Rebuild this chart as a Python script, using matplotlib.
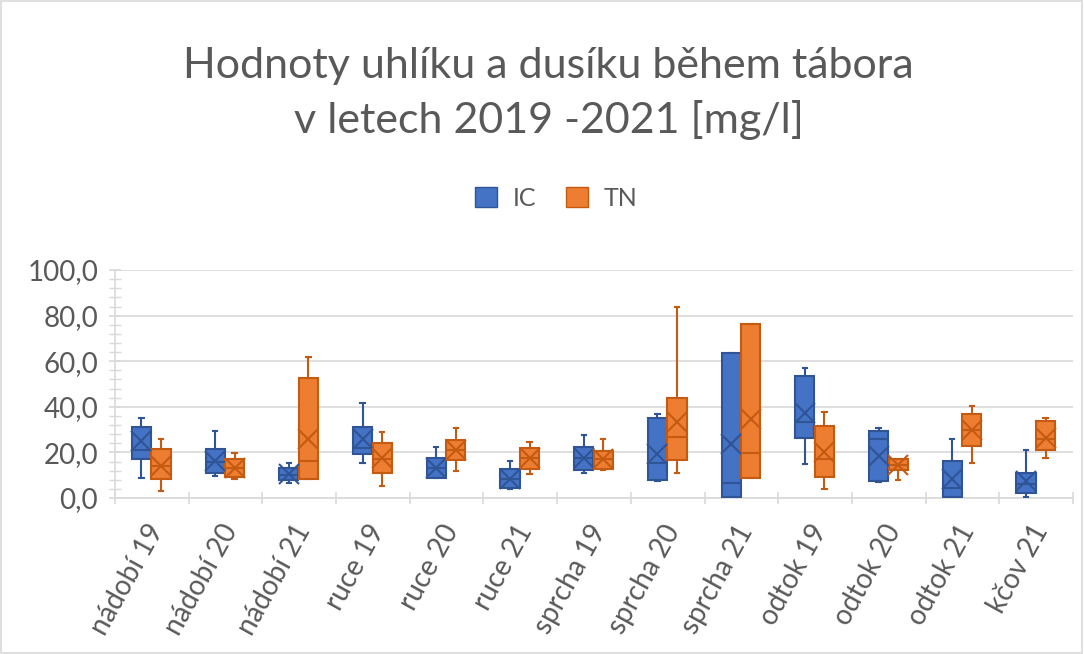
import matplotlib
matplotlib.use("Agg")
import matplotlib.pyplot as plt
from matplotlib.patches import Rectangle, Patch
from matplotlib.ticker import MultipleLocator, FuncFormatter

plt.rcParams['font.family'] = ['Lato', 'DejaVu Sans']

categories = ["nádobí 19", "nádobí 20", "nádobí 21", "ruce 19", "ruce 20", "ruce 21",
              "sprcha 19", "sprcha 20", "sprcha 21", "odtok 19", "odtok 20", "odtok 21", "kčov 21"]

# IC: min, Q1, median, Q3, max, mean
ic_min  = [9.0, 9.8, 6.4, 15.5, 8.9, 4.0, 11.1, 7.5, 0.5, 14.8, 7.0, 0.5, 0.6]
ic_q1   = [17.1, 11.1, 7.9, 19.4, 8.9, 4.5, 12.3, 7.9, 0.6, 26.5, 7.5, 0.6, 2.0]
ic_med  = [21.0, 16.0, 10.0, 21.8, 13.0, 8.5, 17.4, 15.2, 6.4, 33.2, 25.7, 4.2, 6.0]
ic_q3   = [31.3, 21.5, 13.0, 31.1, 17.4, 12.6, 22.5, 35.2, 63.5, 53.6, 29.4, 16.2, 10.8]
ic_max  = [35.2, 29.4, 15.2, 41.5, 22.5, 16.2, 27.6, 36.7, 63.5, 57.1, 30.8, 25.9, 21.0]
ic_mean = [24.8, 16.4, 10.4, 25.7, 13.0, 8.5, 17.4, 19.3, 23.5, 37.1, 18.6, 8.2, 7.3]

# TN: min, Q1, median, Q3, max, mean
tn_min  = [3.2, 8.2, 8.2, 5.4, 11.8, 10.4, 12.3, 11.1, 8.6, 4.1, 7.9, 15.5, 17.4]
tn_q1   = [8.2, 9.4, 8.2, 11.1, 16.7, 12.6, 12.7, 16.7, 8.6, 9.4, 12.3, 22.8, 21.0]
tn_med  = [14.0, 13.3, 16.2, 17.0, 21.0, 17.4, 17.0, 26.9, 19.9, 17.0, 14.5, 30.0, 26.0]
tn_q3   = [21.6, 17.1, 52.8, 24.0, 25.4, 21.8, 20.6, 44.0, 76.2, 31.6, 17.0, 36.7, 33.8]
tn_max  = [25.9, 19.6, 62.0, 28.9, 30.8, 24.6, 25.9, 83.6, 76.2, 37.9, 17.2, 40.4, 35.2]
tn_mean = [14.0, 13.3, 25.7, 17.5, 21.0, 17.4, 17.0, 33.2, 34.6, 20.3, 14.5, 29.8, 26.5]

series_names = ["IC", "TN"]
ic_fill, ic_edge = "#4472C4", "#2F5597"
tn_fill, tn_edge = "#ED7D31", "#C55A11"

fig = plt.figure(figsize=(10.84, 6.54), dpi=100)
fig.patches.append(Rectangle((0.001, 0.001), 0.997, 0.997, transform=fig.transFigure,
                             fill=False, edgecolor="#D9D9D9", linewidth=1.2))
ax = fig.add_axes([0.106, 0.2385, 0.884, 0.3486])

def make_stats(mn, q1, med, q3, mx, mean):
    return [dict(whislo=a, q1=b, med=c, q3=d, whishi=e, mean=f, fliers=[])
            for a, b, c, d, e, f in zip(mn, q1, med, q3, mx, mean)]

w = 0.26
pos = list(range(len(categories)))
for stats, off, fill, edge in [
        (make_stats(ic_min, ic_q1, ic_med, ic_q3, ic_max, ic_mean), -0.14, ic_fill, ic_edge),
        (make_stats(tn_min, tn_q1, tn_med, tn_q3, tn_max, tn_mean), 0.125, tn_fill, tn_edge)]:
    ax.bxp(stats, positions=[p + off for p in pos], widths=w, patch_artist=True,
           showmeans=True, showfliers=False,
           boxprops=dict(facecolor=fill, edgecolor=edge, linewidth=1.5),
           medianprops=dict(color=edge, linewidth=1.5),
           whiskerprops=dict(color=edge, linewidth=1.5),
           capprops=dict(color=edge, linewidth=1.5),
           capwidths=0.06,
           meanprops=dict(marker='x', markeredgecolor=edge, markersize=14, markeredgewidth=1.5),
           manage_ticks=False, zorder=3)

ax.set_xlim(-0.5, len(categories) - 0.5)
ax.set_ylim(0, 100)
ax.yaxis.set_major_locator(MultipleLocator(20))
ax.yaxis.set_minor_locator(MultipleLocator(4))
ax.yaxis.set_major_formatter(FuncFormatter(lambda v, p: f"{v:.1f}".replace(".", ",")))
ax.grid(axis='y', which='major', color="#D9D9D9", linewidth=1.2, zorder=0)
ax.set_axisbelow(True)

ax.set_xticks([p - 0.5 for p in pos] + [len(categories) - 0.5])
ax.set_xticklabels([])
ax.set_xticks([p - 0.08 for p in pos], minor=True)
ax.set_xticklabels(categories, minor=True, rotation=61, ha='right', va='top',
                   rotation_mode='anchor', fontsize=20, color="#595959")
ax.tick_params(axis='x', which='major', length=8, direction='inout', color="#D9D9D9", width=1.2)
ax.tick_params(axis='x', which='minor', length=0, pad=16)
ax.tick_params(axis='y', which='major', length=8, direction='inout', color="#D9D9D9", width=1.2,
               labelsize=20, labelcolor="#595959", pad=8)
ax.tick_params(axis='y', which='minor', length=8, direction='inout', color="#D9D9D9", width=1.0)

for s in ['top', 'right']:
    ax.spines[s].set_visible(False)
for s in ['left', 'bottom']:
    ax.spines[s].set_color("#D9D9D9")
    ax.spines[s].set_linewidth(1.2)

fig.text(0.506, 0.857, "Hodnoty uhlíku a dusíku během tábora\nv letech 2019 -2021 [mg/l]",
         ha='center', va='center', fontsize=31, color="#595959", linespacing=1.45)

handles = [Patch(facecolor=ic_fill, edgecolor=ic_edge, label=series_names[0]),
           Patch(facecolor=tn_fill, edgecolor=tn_edge, label=series_names[1])]
fig.legend(handles=handles, loc='center', bbox_to_anchor=(0.513, 0.697), ncol=2, frameon=False,
           fontsize=18, labelcolor="#595959", handlelength=0.9, handleheight=0.9,
           columnspacing=1.2, handletextpad=0.6)

fig.savefig("out.png", dpi=100)
